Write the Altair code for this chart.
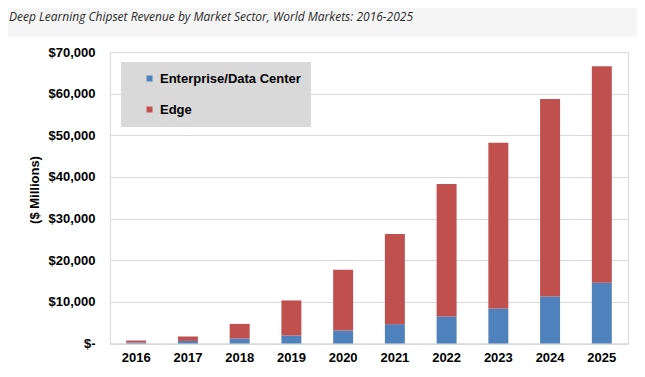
import altair as alt
import pandas as pd

years = ["2016", "2017", "2018", "2019", "2020", "2021", "2022", "2023", "2024", "2025"]
enterprise = [240, 620, 1200, 1920, 3120, 4640, 6490, 8410, 11300, 14570]
edge = [480, 1060, 3510, 8420, 14580, 21630, 31800, 39810, 47430, 52020]
series = ["Enterprise/Data Center", "Edge"]
colors = ["#4F81BD", "#C0504D"]
y_ticks = [0, 10000, 20000, 30000, 40000, 50000, 60000, 70000]
title_text = "Deep Learning Chipset Revenue by Market Sector, World Markets: 2016-2025"

rows = []
for i, yr in enumerate(years):
    rows.append({"year": yr, "sector": series[0], "value": enterprise[i], "ord": 0})
    rows.append({"year": yr, "sector": series[1], "value": edge[i], "ord": 1})
df = pd.DataFrame(rows)

FONT = "Liberation Sans"

strip = alt.Chart(alt.Data(values=[{}])).mark_rect(color="#f5f5f5").encode(
    x=alt.value(-102), x2=alt.value(527), y=alt.value(-44), y2=alt.value(-15)
)

bars = alt.Chart(df).mark_bar().encode(
    x=alt.X(
        "year:N",
        sort=years,
        scale=alt.Scale(paddingInner=0.614, paddingOuter=0.313),
        axis=alt.Axis(
            title=None, labelAngle=0, ticks=False, grid=False,
            domainColor="#d9d9d9", labelFont=FONT, labelFontSize=13,
            labelFontWeight="bold", labelColor="#000", labelPadding=8,
        ),
    ),
    y=alt.Y(
        "value:Q",
        stack="zero",
        scale=alt.Scale(domain=[0, 70000], nice=False),
        axis=alt.Axis(
            values=y_ticks,
            labelExpr="datum.value == 0 ? '$-' : '$' + format(datum.value, ',')",
            title="($ Millions)", titleFont=FONT, titleFontSize=13,
            titleFontWeight="bold", titleColor="#000", titleAngle=-90,
            titleX=-76, titleY=137.5, titleAlign="center", titleBaseline="middle",
            ticks=False, tickSize=0, grid=True, gridColor="#d9d9d9",
            domainColor="#d9d9d9", labelFont=FONT, labelFontSize=13,
            labelFontWeight="bold", labelColor="#000", labelPadding=15,
        ),
    ),
    color=alt.Color(
        "sector:N",
        scale=alt.Scale(domain=series, range=colors),
        legend=alt.Legend(
            orient="none", legendX=11, legendY=10, title=None,
            fillColor="#d9d9d9", padding=10, symbolType="square",
            symbolSize=36, symbolOffset=12, labelOffset=4,
            labelFont=FONT, labelFontSize=13, labelFontWeight="bold",
            labelColor="#000", rowPadding=17, symbolStrokeWidth=0,
        ),
    ),
    order=alt.Order("ord:Q", sort="ascending"),
)

chart = alt.layer(strip, bars).properties(
    width=518,
    height=291.5,
    padding={"left": 102, "top": 44, "right": 9, "bottom": 20},
    autosize=alt.AutoSizeParams(type="none"),
    background="white",
    title=alt.TitleParams(
        text=title_text, anchor="start", frame="group", orient="top",
        dx=-101, dy=16, offset=0, font="Open Sans", fontSize=12,
        fontStyle="italic", fontWeight="normal", color="#2b2b2b",
    ),
).configure_view(stroke="#d9d9d9", strokeWidth=1)

chart.save("out.html", embed_options={"renderer": "svg", "actions": False})
